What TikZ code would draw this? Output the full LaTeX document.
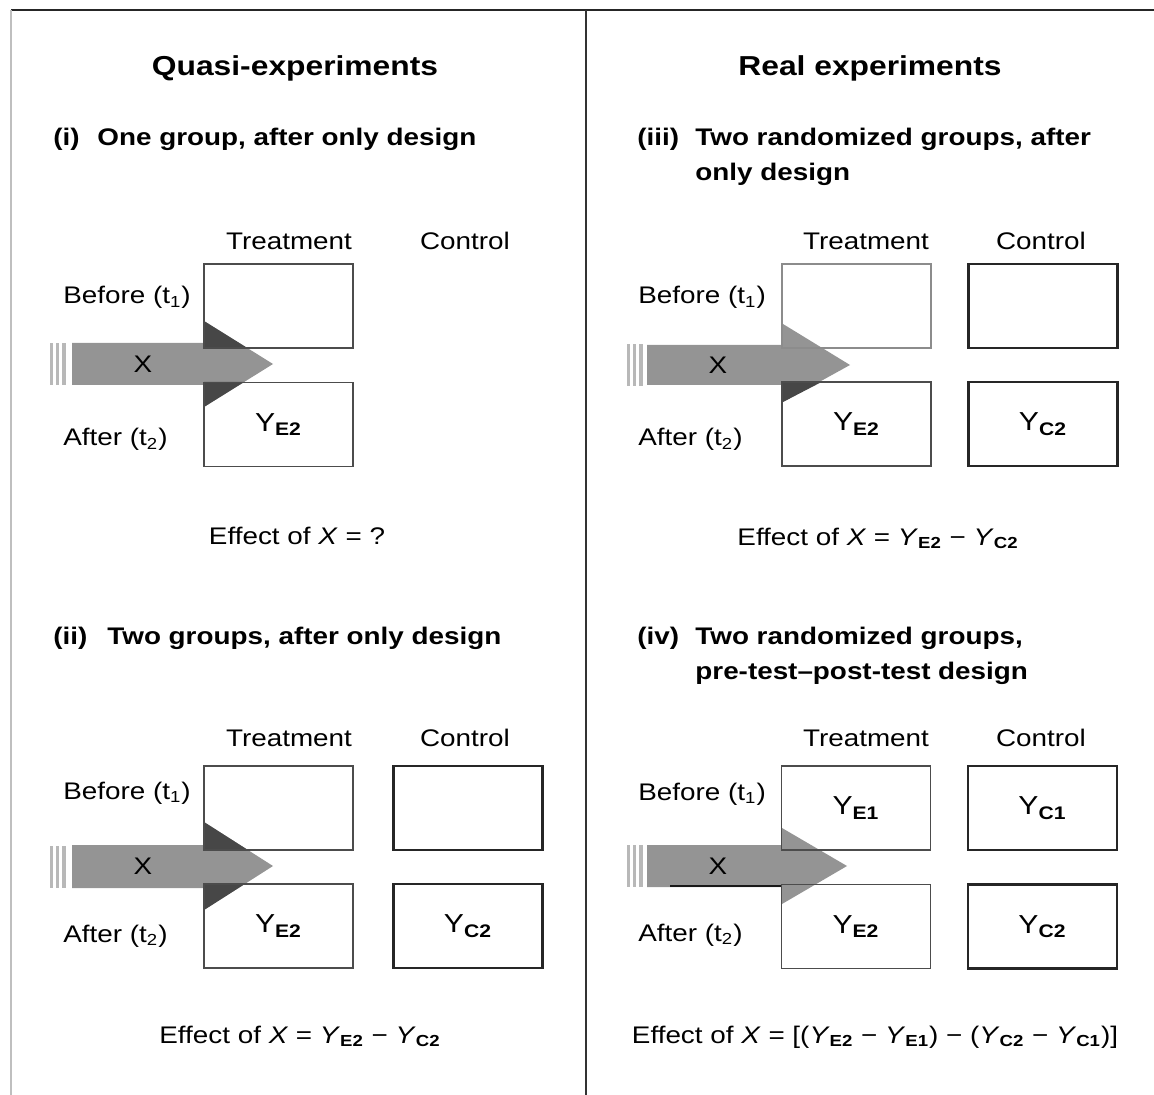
\documentclass[tikz,border=0pt]{standalone}
\usepackage{fontspec}
\setmainfont[FakeStretch=1.16]{Liberation Sans}
\usetikzlibrary{positioning, backgrounds}

\begin{document}
\begin{tikzpicture}
  [x=0.5pt, y=-0.5pt,
  every node/.style={inner sep=0pt, font=\fontsize{12}{14}\selectfont},
  heading/.style={font=\fontsize{13.7}{16}\selectfont\bfseries, anchor=base},
  subhead/.style={font=\fontsize{12}{14}\selectfont\bfseries, anchor=base west},
  rowlabel/.style={anchor=base west},
  collabel/.style={anchor=base},
  effect/.style={anchor=base},
  tbox/.style={draw=black!70, line width=0.7pt, minimum width=74.5pt, minimum height=42pt,
    font=\fontsize{13}{15}\selectfont},
  cbox/.style={tbox, draw=black!85, line width=1.1pt},
  shaft/.style={fill=black!42},
  tail/.style={fill=black!28},
  shade/.style={fill=black!72}]

  \useasboundingbox (0,0) rectangle (1154,1095);

  % frame
  \draw[black!85, line width=1pt] (11,10) -- (1154,10);
  \draw[black!25, line width=0.8pt] (11,10) -- (11,1095);
  \draw[black!80, line width=0.6pt] (586,10) -- (586,1095);

  \node[heading] (quasi) at (295,76) {Quasi-experiments};
  \node[heading] (real) at (870,76) {Real experiments};

  %% (i)
  \node[subhead] (numI) at (53,146) {(i)};
  \node[subhead] (headI) at (97,146) {One group, after only design};
  \node[collabel] (treatI) at (289,250) {Treatment};
  \node[collabel] (ctrlI) at (465,250) {Control};
  \node[rowlabel] (beforeI) at (63,304) {Before (t\textsubscript{1})};
  \node[rowlabel] (afterI) at (63,446) {After (t\textsubscript{2})};
  \node[tbox] (tbI) at (278.5,306) {};
  \node[tbox] (taI) at (278.5,424.5) {Y\textsubscript{\bfseries E2}};
  \node (xI) at (143,364) {X};
  \node[effect] (effI) at (297,544) {Effect of \textit{X} = ?};

  %% (ii)
  \node[subhead] (numII) at (53,644) {(ii)};
  \node[subhead] (headII) at (107,644) {Two groups, after only design};
  \node[collabel] (treatII) at (289,746) {Treatment};
  \node[collabel] (ctrlII) at (465,746) {Control};
  \node[rowlabel] (beforeII) at (63,799) {Before (t\textsubscript{1})};
  \node[rowlabel] (afterII) at (63,942) {After (t\textsubscript{2})};
  \node[tbox] (tbII) at (278.5,808) {};
  \node[tbox] (taII) at (278.5,926) {Y\textsubscript{\bfseries E2}};
  \node[cbox] (cbII) at (468,808) {};
  \node[cbox] (caII) at (468,926) {Y\textsubscript{\bfseries C2}};
  \node (xII) at (143,866) {X};
  \node[effect] (effII) at (300,1043)
    {Effect of \textit{X} = \textit{Y}\textsubscript{\bfseries E2} − \textit{Y}\textsubscript{\bfseries C2}};

  %% (iii)
  \node[subhead] (numIII) at (637,146) {(iii)};
  \node[subhead] (headIII) at (695,146) {Two randomized groups, after};
  \node[subhead] (headIIIb) at (695,181) {only design};
  \node[collabel] (treatIII) at (866,250) {Treatment};
  \node[collabel] (ctrlIII) at (1041,250) {Control};
  \node[rowlabel] (beforeIII) at (638,304) {Before (t\textsubscript{1})};
  \node[rowlabel] (afterIII) at (638,446) {After (t\textsubscript{2})};
  \node[tbox, draw=black!45] (tbIII) at (856.5,306) {};
  \node[tbox] (taIII) at (856.5,424) {Y\textsubscript{\bfseries E2}};
  \node[cbox] (cbIII) at (1043,306) {};
  \node[cbox] (caIII) at (1043,424) {Y\textsubscript{\bfseries C2}};
  \node (xIII) at (718,365) {X};
  \node[effect] (effIII) at (878,545)
    {Effect of \textit{X} = \textit{Y}\textsubscript{\bfseries E2} − \textit{Y}\textsubscript{\bfseries C2}};

  %% (iv)
  \node[subhead] (numIV) at (637,644) {(iv)};
  \node[subhead] (headIV) at (695,644) {Two randomized groups,};
  \node[subhead] (headIVb) at (695,679) {pre-test–post-test design};
  \node[collabel] (treatIV) at (866,746) {Treatment};
  \node[collabel] (ctrlIV) at (1041,746) {Control};
  \node[rowlabel] (beforeIV) at (638,800) {Before (t\textsubscript{1})};
  \node[rowlabel] (afterIV) at (638,941) {After (t\textsubscript{2})};
  \node[tbox] (tbIV) at (856,808) {Y\textsubscript{\bfseries E1}};
  \node[tbox] (taIV) at (856,926.5) {Y\textsubscript{\bfseries E2}};
  \node[cbox] (cbIV) at (1042.5,808) {Y\textsubscript{\bfseries C1}};
  \node[cbox] (caIV) at (1042.5,926.5) {Y\textsubscript{\bfseries C2}};
  \node (xIV) at (718,866) {X};
  \node[effect] (effIV) at (875,1043)
    {Effect of \textit{X} = [(\textit{Y}\textsubscript{\bfseries E2} − \textit{Y}\textsubscript{\bfseries E1}) − (\textit{Y}\textsubscript{\bfseries C2} − \textit{Y}\textsubscript{\bfseries C1})]};

  % the X arrows, behind the boxes
  \begin{scope}[on background layer]
    \path[shaft] (72,343) -- (204,343) -- (204,321) -- (273,364) -- (204,407) -- (204,385) -- (72,385) -- cycle;
    \begin{scope}
      \clip (tbI.south west) rectangle (tbI.north east) (taI.south west) rectangle (taI.north east);
      \path[shade] (204,321) -- (273,364) -- (204,407) -- cycle;
    \end{scope}
    \path[shaft] (72,845) -- (204,845) -- (204,822) -- (273,866) -- (204,910) -- (204,888) -- (72,888) -- cycle;
    \begin{scope}
      \clip (tbII.south west) rectangle (tbII.north east) (taII.south west) rectangle (taII.north east);
      \path[shade] (204,822) -- (273,866) -- (204,910) -- cycle;
    \end{scope}
    \path[shaft] (647,345) -- (783,345) -- (783,324) -- (850,365) -- (783,402) -- (783,385) -- (647,385) -- cycle;
    \begin{scope}
      \clip (taIII.south west) rectangle (taIII.north east);
      \path[shade] (772,375) -- (835,375) -- (783,402) -- cycle;
    \end{scope}
    \path[shaft] (647,845) -- (782,845) -- (782,828) -- (847,866) -- (782,904) -- (782,887) -- (647,887) -- cycle;
    % striped tails
    \foreach \x/\yc in {50/364, 50/866.5, 627/365, 627/866} {
      \path[tail] (\x,\yc-21) rectangle ++(3,42);
      \path[tail] (\x+6,\yc-21) rectangle ++(3,42);
      \path[tail] (\x+12,\yc-21) rectangle ++(4,42);
    }
  \end{scope}
  \draw[black!90, line width=0.8pt] (670,886) -- (tbIV.west |- 0,886);
\end{tikzpicture}
\end{document}
